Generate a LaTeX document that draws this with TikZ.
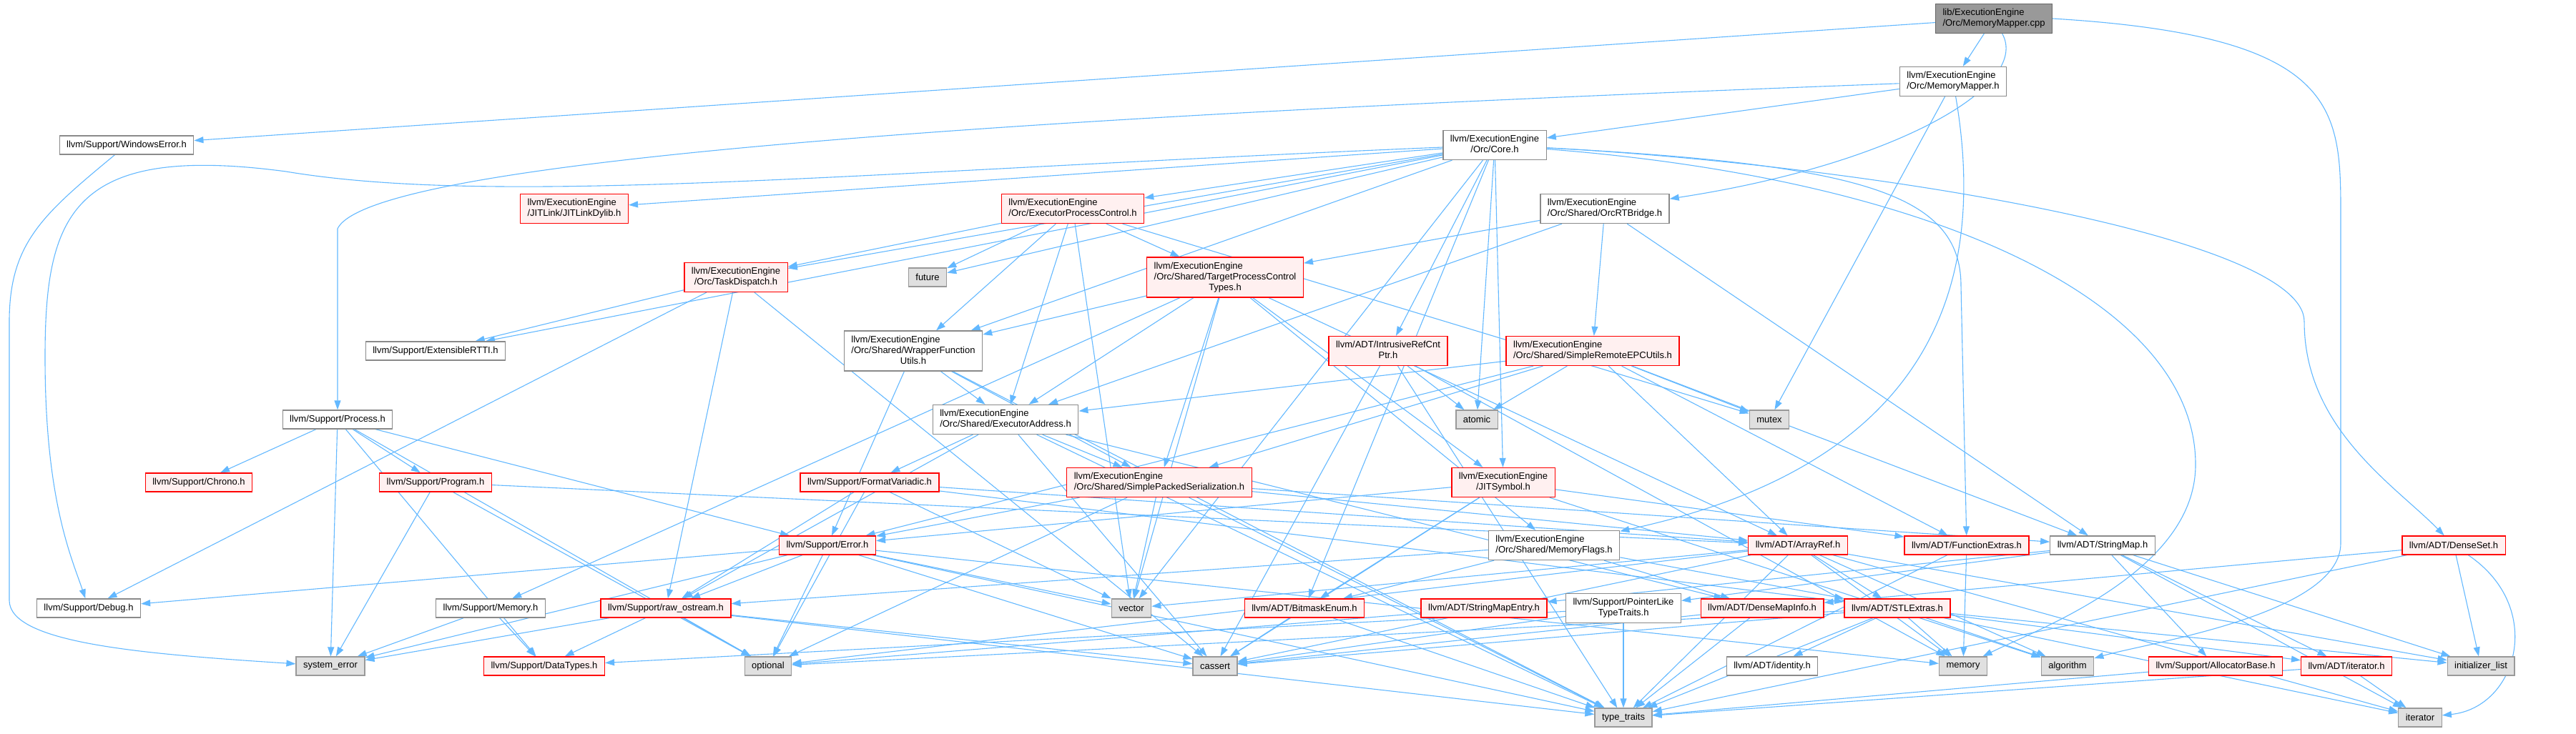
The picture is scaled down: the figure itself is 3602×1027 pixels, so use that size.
\documentclass[tikz,border=0pt]{standalone}
\usepackage{fontspec}
\setmainfont{Liberation Sans}
\usetikzlibrary{arrows.meta}

\definecolor{edgeblue}{HTML}{63B8FF}
\definecolor{filegray}{HTML}{8A8A8A}
\definecolor{sysfill}{HTML}{E0E0E0}
\definecolor{sysdraw}{HTML}{999999}
\definecolor{truncfill}{HTML}{FFF0F0}
\definecolor{rootfill}{HTML}{999999}
\definecolor{rootdraw}{HTML}{666666}

% labels of two and three lines: upper lines left, last line centred
\newcommand{\twoline}[2]{\begin{tabular}{@{}l@{}}#1\\\multicolumn{1}{@{}c@{}}{#2}\end{tabular}}
\newcommand{\threeline}[3]{\begin{tabular}{@{}l@{}}#1\\#2\\\multicolumn{1}{@{}c@{}}{#3}\end{tabular}}

% first pass: empty named boxes for the arrows, second pass: the boxes drawn on top
\newcommand{\placenode}[4]{\node[#1, draw=none, fill=none] (#2) at (#3) {\phantom{#4}};}
\newcommand{\drawnode}[4]{\node[#1] at (#3) {#4};}

\newcommand{\allnodes}{%
\filenode{rootfile}{root}{2788,26}{\twoline{lib/ExecutionEngine}{/Orc/MemoryMapper.cpp}}
\filenode{file}{mmh}{2731,114}{\twoline{llvm/ExecutionEngine}{/Orc/MemoryMapper.h}}
\filenode{file}{winerr}{177,203}{llvm/Support/WindowsError.h}
\filenode{file}{core}{2090,203}{\twoline{llvm/ExecutionEngine}{/Orc/Core.h}}
\filenode{trunc}{jitdylib}{803,292}{\twoline{llvm/ExecutionEngine}{/JITLink/JITLinkDylib.h}}
\filenode{trunc}{epc}{1500,292}{\twoline{llvm/ExecutionEngine}{/Orc/ExecutorProcessControl.h}}
\filenode{file}{orcrt}{2244,292}{\twoline{llvm/ExecutionEngine}{/Orc/Shared/OrcRTBridge.h}}
\filenode{trunc}{taskd}{1029,388}{\twoline{llvm/ExecutionEngine}{/Orc/TaskDispatch.h}}
\filenode{sys}{future}{1297,388}{future}
\filenode{trunc}{tpct}{1713,388}{\threeline{llvm/ExecutionEngine}{/Orc/Shared/TargetProcessControl}{Types.h}}
\filenode{file}{extrtti}{609,491}{llvm/Support/ExtensibleRTTI.h}
\filenode{file}{wrapper}{1277,491}{\threeline{llvm/ExecutionEngine}{/Orc/Shared/WrapperFunction}{Utils.h}}
\filenode{trunc}{intrusive}{1941,491}{\twoline{llvm/ADT/IntrusiveRefCnt}{Ptr.h}}
\filenode{trunc}{sremote}{2227,491}{\twoline{llvm/ExecutionEngine}{/Orc/Shared/SimpleRemoteEPCUtils.h}}
\filenode{file}{process}{472,587}{llvm/Support/Process.h}
\filenode{file}{execaddr}{1406,587}{\twoline{llvm/ExecutionEngine}{/Orc/Shared/ExecutorAddress.h}}
\filenode{sys}{atomic}{2065,587}{atomic}
\filenode{sys}{mutex}{2474,587}{mutex}
\filenode{trunc}{chrono}{278,675}{llvm/Support/Chrono.h}
\filenode{trunc}{program}{609,675}{llvm/Support/Program.h}
\filenode{trunc}{fmtvar}{1216,675}{llvm/Support/FormatVariadic.h}
\filenode{trunc}{spser}{1621,675}{\twoline{llvm/ExecutionEngine}{/Orc/Shared/SimplePackedSerialization.h}}
\filenode{trunc}{jitsym}{2102,675}{\twoline{llvm/ExecutionEngine}{/JITSymbol.h}}
\filenode{trunc}{error}{1157,763}{llvm/Support/Error.h}
\filenode{file}{memflags}{2173,763}{\twoline{llvm/ExecutionEngine}{/Orc/Shared/MemoryFlags.h}}
\filenode{trunc}{arrayref}{2514,763}{llvm/ADT/ArrayRef.h}
\filenode{trunc}{funcext}{2750,763}{llvm/ADT/FunctionExtras.h}
\filenode{file}{strmap}{2940,763}{llvm/ADT/StringMap.h}
\filenode{trunc}{denseset}{3431,763}{llvm/ADT/DenseSet.h}
\filenode{file}{debug}{124,851}{llvm/Support/Debug.h}
\filenode{file}{supmem}{686,851}{llvm/Support/Memory.h}
\filenode{trunc}{rawos}{931,851}{llvm/Support/raw\_ostream.h}
\filenode{sys}{vector}{1582,851}{vector}
\filenode{trunc}{bitmask}{1824,851}{llvm/ADT/BitmaskEnum.h}
\filenode{trunc}{smentry}{2075,851}{llvm/ADT/StringMapEntry.h}
\filenode{file}{ptrlike}{2270,851}{\twoline{llvm/Support/PointerLike}{TypeTraits.h}}
\filenode{trunc}{dmi}{2464,851}{llvm/ADT/DenseMapInfo.h}
\filenode{trunc}{stlext}{2653,851}{llvm/ADT/STLExtras.h}
\filenode{sys}{syserr}{462,932}{system\_error}
\filenode{trunc}{datatypes}{761,932}{llvm/Support/DataTypes.h}
\filenode{sys}{optional}{1074,932}{optional}
\filenode{sys}{cassert}{1699,932}{cassert}
\filenode{file}{identity}{2478,932}{llvm/ADT/identity.h}
\filenode{sys}{memoryh}{2745,932}{memory}
\filenode{sys}{algorithm}{2891,932}{algorithm}
\filenode{trunc}{allocbase}{3098,932}{llvm/Support/AllocatorBase.h}
\filenode{trunc}{iterh}{3281,932}{llvm/ADT/iterator.h}
\filenode{sys}{initlist}{3469,932}{initializer\_list}
\filenode{sys}{typetraits}{2270,1004}{type\_traits}
\filenode{sys}{iterator}{3384,1004}{iterator}
}

\begin{document}
\begin{tikzpicture}[x=1pt,y=-1pt,>={Triangle[length=13pt,width=9pt]}]
\tikzset{
  file/.style={rectangle, draw=filegray, fill=white, line width=1.3pt,
    font=\fontsize{13}{15}\selectfont, inner xsep=10pt, inner ysep=5.5pt,
    minimum height=26pt},
  trunc/.style={file, draw=red, fill=truncfill},
  sys/.style={file, draw=sysdraw, fill=sysfill},
  rootfile/.style={file, draw=rootdraw, fill=rootfill}
}
\useasboundingbox (0,0) rectangle (3602,1027);

% Nodes (names only)
\let\filenode\placenode
\allnodes

% Arrows, all in one colour
\begin{scope}[color=edgeblue, line width=1.1pt]
% MemoryMapper.cpp
\draw[->] (root) -- (mmh);
\draw[->] (root) .. controls (2840,120) and (2650,230) .. (orcrt);
\draw[->] (root) -- (winerr);
\draw[->] (root.east) .. controls (3270,50) and (3273,150) .. (3273,300) -- (3273,760) .. controls (3273,860) and (3000,900) .. (algorithm);
% MemoryMapper.h
\draw[->] (mmh) -- (core);
\draw[->] (mmh) .. controls (1500,160) and (520,220) .. (472,320) -- (process);
\draw[->] (mmh) -- (mutex);
\draw[->] (mmh) .. controls (2780,400) and (2700,650) .. (memflags);
% WindowsError.h
\draw[->] (winerr) .. controls (60,300) and (13,340) .. (13,450) -- (13,840) .. controls (13,900) and (200,915) .. (syserr);
% Core.h
\draw[->] (core) .. controls (1200,240) and (700,290) .. (400,240) .. controls (100,200) and (63,300) .. (63,500) .. controls (63,700) and (100,780) .. (debug);
\draw[->] (core) -- (jitdylib);
\draw[->] (core) -- (epc);
\draw[->] (core) -- (taskd);
\draw[->] (core) -- (future);
\draw[->] (core) -- (extrtti);
\draw[->] (core) -- (wrapper);
\draw[->] (core) -- (intrusive);
\draw[->] (core) -- (atomic);
\draw[->] (core) -- (jitsym);
\draw[->] (core) -- (bitmask);
\draw[->] (core) -- (vector);
\draw[->] (core) .. controls (2600,230) and (3222,330) .. (3222,450) .. controls (3222,600) and (3350,680) .. (denseset);
\draw[->] (core) .. controls (2600,230) and (2742,270) .. (2742,400) -- (funcext);
\draw[->] (core) .. controls (2700,250) and (3070,420) .. (3070,650) .. controls (3070,800) and (2850,880) .. (memoryh);
% ExecutorProcessControl.h
\draw[->] (epc) -- (taskd);
\draw[->] (epc) -- (future);
\draw[->] (epc) -- (wrapper);
\draw[->] (epc) -- (execaddr);
\draw[->] (epc) -- (vector);
\draw[->] (epc) -- (tpct);
\draw[->] (epc) -- (mutex);
% OrcRTBridge.h
\draw[->] (orcrt) -- (execaddr);
\draw[->] (orcrt) -- (sremote);
\draw[->] (orcrt) -- (tpct);
\draw[->] (orcrt) -- (strmap);
% TaskDispatch.h
\draw[->] (taskd) -- (extrtti);
\draw[->] (taskd) -- (debug);
\draw[->] (taskd) -- (rawos);
\draw[->] (taskd) -- (cassert);
% TargetProcessControlTypes.h
\draw[->] (tpct) -- (arrayref);
\draw[->] (tpct) -- (jitsym);
\draw[->] (tpct) -- (execaddr);
\draw[->] (tpct) -- (memflags);
\draw[->] (tpct) -- (spser);
\draw[->] (tpct) -- (wrapper);
\draw[->] (tpct) -- (supmem);
\draw[->] (tpct) -- (vector);
% WrapperFunctionUtils.h
\draw[->] (wrapper) -- (execaddr);
\draw[->] (wrapper) -- (spser);
\draw[->] (wrapper) -- (error);
\draw[->] (wrapper) -- (typetraits);
% IntrusiveRefCntPtr.h
\draw[->] (intrusive) -- (atomic);
\draw[->] (intrusive) -- (cassert);
\draw[->] (intrusive) -- (memoryh);
\draw[->] (intrusive) -- (typetraits);
% SimpleRemoteEPCUtils.h
\draw[->] (sremote) -- (arrayref);
\draw[->] (sremote) -- (funcext);
\draw[->] (sremote) -- (execaddr);
\draw[->] (sremote) -- (spser);
\draw[->] (sremote) -- (error);
\draw[->] (sremote) -- (atomic);
\draw[->] (sremote) -- (mutex);
\draw[->] (sremote) -- (strmap);
% Process.h
\draw[->] (process) -- (chrono);
\draw[->] (process) -- (program);
\draw[->] (process) -- (syserr);
\draw[->] (process) -- (datatypes);
\draw[->] (process) -- (error);
\draw[->] (process) -- (optional);
% ExecutorAddress.h
\draw[->] (execaddr) -- (dmi);
\draw[->] (execaddr) -- (spser);
\draw[->] (execaddr) -- (fmtvar);
\draw[->] (execaddr) -- (rawos);
\draw[->] (execaddr) -- (cassert);
\draw[->] (execaddr) -- (typetraits);
% Program.h
\draw[->] (program) -- (arrayref);
\draw[->] (program) -- (optional);
\draw[->] (program) -- (syserr);
% FormatVariadic.h
\draw[->] (fmtvar) -- (arrayref);
\draw[->] (fmtvar) -- (stlext);
\draw[->] (fmtvar) -- (rawos);
\draw[->] (fmtvar) -- (optional);
\draw[->] (fmtvar) -- (vector);
% SimplePackedSerialization.h
\draw[->] (spser) -- (arrayref);
\draw[->] (spser) -- (strmap);
\draw[->] (spser) -- (error);
\draw[->] (spser) -- (optional);
\draw[->] (spser) -- (typetraits);
\draw[->] (spser) -- (vector);
% JITSymbol.h
\draw[->] (jitsym) -- (bitmask);
\draw[->] (jitsym) -- (funcext);
\draw[->] (jitsym) -- (error);
\draw[->] (jitsym) -- (algorithm);
\draw[->] (jitsym) -- (cassert);
% Error.h
\draw[->] (error) -- (debug);
\draw[->] (error) -- (rawos);
\draw[->] (error) -- (cassert);
\draw[->] (error) -- (memoryh);
\draw[->] (error) -- (optional);
\draw[->] (error) -- (syserr);
\draw[->] (error) -- (typetraits);
\draw[->] (error) -- (vector);
% MemoryFlags.h
\draw[->] (memflags) -- (bitmask);
\draw[->] (memflags) -- (dmi);
\draw[->] (memflags) -- (stlext);
\draw[->] (memflags) -- (rawos);
% ArrayRef.h
\draw[->] (arrayref) -- (stlext);
\draw[->] (arrayref) -- (algorithm);
\draw[->] (arrayref) -- (cassert);
\draw[->] (arrayref) -- (initlist);
\draw[->] (arrayref) -- (iterator);
\draw[->] (arrayref) -- (memoryh);
\draw[->] (arrayref) -- (optional);
\draw[->] (arrayref) -- (typetraits);
\draw[->] (arrayref) -- (vector);
% FunctionExtras.h
\draw[->] (funcext) -- (memoryh);
\draw[->] (funcext) -- (typetraits);
% StringMap.h
\draw[->] (strmap) -- (smentry);
\draw[->] (strmap) -- (iterh);
\draw[->] (strmap) -- (allocbase);
\draw[->] (strmap) -- (ptrlike);
\draw[->] (strmap) -- (initlist);
\draw[->] (strmap) -- (iterator);
% DenseSet.h
\draw[->] (denseset) -- (dmi);
\draw[->] (denseset) -- (initlist);
\draw[->] (denseset) .. controls (3560,850) and (3520,990) .. (iterator);
\draw[->] (denseset) -- (typetraits);
% Memory.h, raw_ostream.h
\draw[->] (supmem) -- (datatypes);
\draw[->] (supmem) -- (syserr);
\draw[->] (rawos) -- (datatypes);
\draw[->] (rawos) -- (cassert);
\draw[->] (rawos) -- (optional);
\draw[->] (rawos) -- (syserr);
\draw[->] (rawos) -- (typetraits);
% small ADT headers
\draw[->] (bitmask) -- (cassert);
\draw[->] (bitmask) -- (typetraits);
\draw[->] (smentry) -- (optional);
\draw[->] (ptrlike) -- (datatypes);
\draw[->] (ptrlike) -- (cassert);
\draw[->] (ptrlike) -- (typetraits);
\draw[->] (dmi) -- (cassert);
\draw[->] (dmi) -- (typetraits);
% STLExtras.h
\draw[->] (stlext) -- (identity);
\draw[->] (stlext) -- (iterh);
\draw[->] (stlext) -- (algorithm);
\draw[->] (stlext) -- (cassert);
\draw[->] (stlext) -- (initlist);
\draw[->] (stlext) -- (iterator);
\draw[->] (stlext) -- (memoryh);
\draw[->] (stlext) -- (optional);
\draw[->] (stlext) -- (typetraits);
% iterator.h, AllocatorBase.h
\draw[->] (iterh) -- (iterator);
\draw[->] (iterh) -- (typetraits);
\draw[->] (allocbase) -- (typetraits);
\end{scope}

% Nodes (drawn over the arrows)
\let\filenode\drawnode
\allnodes
\end{tikzpicture}
\end{document}
